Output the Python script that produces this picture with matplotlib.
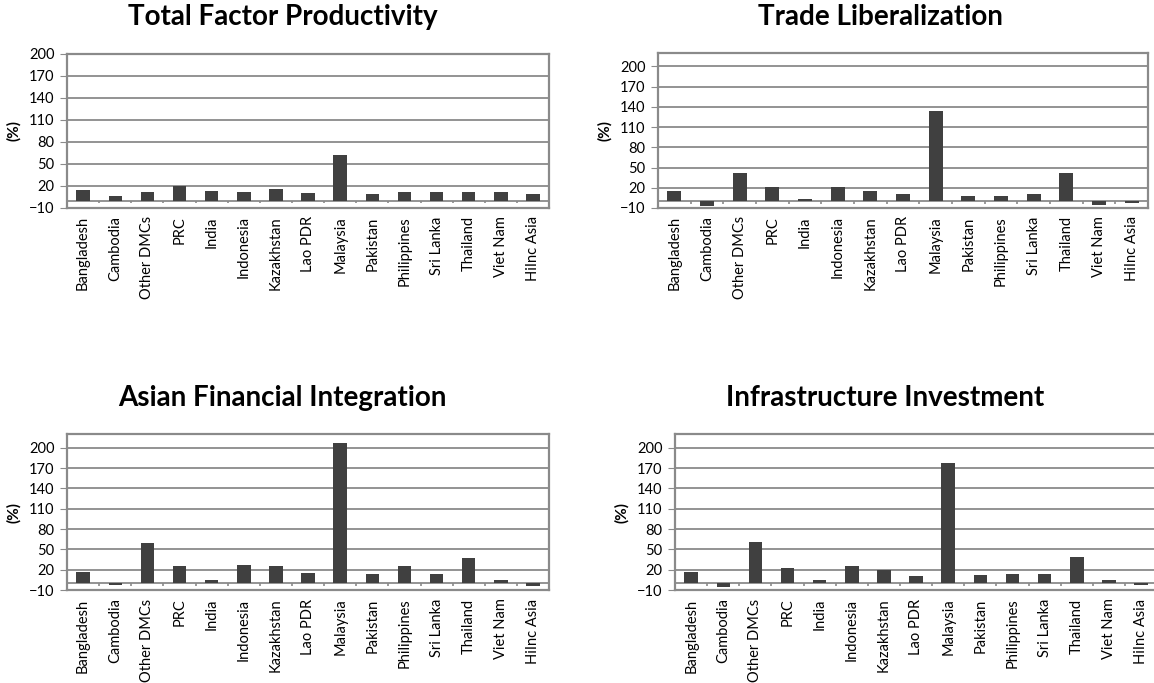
"""Four-panel bar chart of percentage effects by economy."""

import matplotlib
matplotlib.use('Agg')
import matplotlib.pyplot as plt
import numpy as np

countries = ['Bangladesh', 'Cambodia', 'Other DMCs', 'PRC', 'India', 'Indonesia',
             'Kazakhstan', 'Lao PDR', 'Malaysia', 'Pakistan', 'Philippines',
             'Sri Lanka', 'Thailand', 'Viet Nam', 'HiInc Asia']

tfp = [14.5, 7, 11.5, 20, 13, 11.5, 16.5, 10, 62, 8.5, 11.5, 11.5, 11.5, 11.5, 8.5]
trade = [15.5, -6.5, 42, 21.5, 4, 21.5, 15.5, 10.5, 133.5, 8.5, 8.5, 10.5, 42, -5, -2]
finance = [17, -2, 59, 26, 4.5, 27.5, 26, 15.5, 207, 13.5, 26, 13.5, 38, 4.5, -3.5]
infra = [17, -5.5, 61, 23, 4.5, 26, 19, 10.5, 177.5, 12, 13.5, 13.5, 38.5, 4.5, -2]

yticks = [-10, 20, 50, 80, 110, 140, 170, 200]

plt.rcParams['font.family'] = ['Lato', 'DejaVu Sans']

GREY = '#8a8a8a'
BAR = '#404040'

panels = [
    ('Total Factor Productivity', tfp, [0.0581, 0.6955, 0.4177, 0.2255], 200, 0.245, 0.975),
    ('Trade Liberalization', trade, [0.5702, 0.6955, 0.4246, 0.227], 220, 0.763, 0.975),
    ('Asian Financial Integration', finance, [0.0581, 0.136, 0.4177, 0.2284], 220, 0.245, 0.417),
    ('Infrastructure Investment', infra, [0.585, 0.136, 0.4177, 0.2284], 220, 0.767, 0.417),
]

fig = plt.figure(figsize=(11.54, 6.83), dpi=100)

for title, values, rect, ymax, tx, ty in panels:
    ax = fig.add_axes(rect)
    x = np.arange(len(countries))
    ax.bar(x, values, width=0.42, color=BAR, zorder=3)
    ax.set_xlim(-0.5, len(countries) - 0.5)
    ax.set_ylim(-10, ymax)
    ax.set_yticks(yticks)
    ax.set_yticklabels(['\u221210' if t < 0 else str(t) for t in yticks], fontsize=10.5)
    ax.yaxis.grid(True, color=GREY, linewidth=1.3, zorder=0)
    ax.axhline(0, color=GREY, linewidth=1.3, zorder=2)
    # small marks on the zero line between categories
    bounds = np.arange(len(countries) - 1) + 0.5
    ax.vlines(bounds, -3.5, 0, color=GREY, linewidth=1.2, zorder=2)
    ax.set_xticks(x)
    ax.set_xticklabels(countries, rotation=90, fontsize=10.5)
    ax.tick_params(axis='x', length=0, pad=6)
    ax.tick_params(axis='y', length=5, color=GREY, pad=4)
    for spine in ax.spines.values():
        spine.set_color(GREY)
        spine.set_linewidth(1.6)
    ax.set_ylabel('(%)', fontsize=11, fontweight='bold', labelpad=6)
    fig.text(tx, ty, title, ha='center', va='center', fontsize=20, fontweight='bold')

plt.savefig('out.png', dpi=100)
plt.close()
